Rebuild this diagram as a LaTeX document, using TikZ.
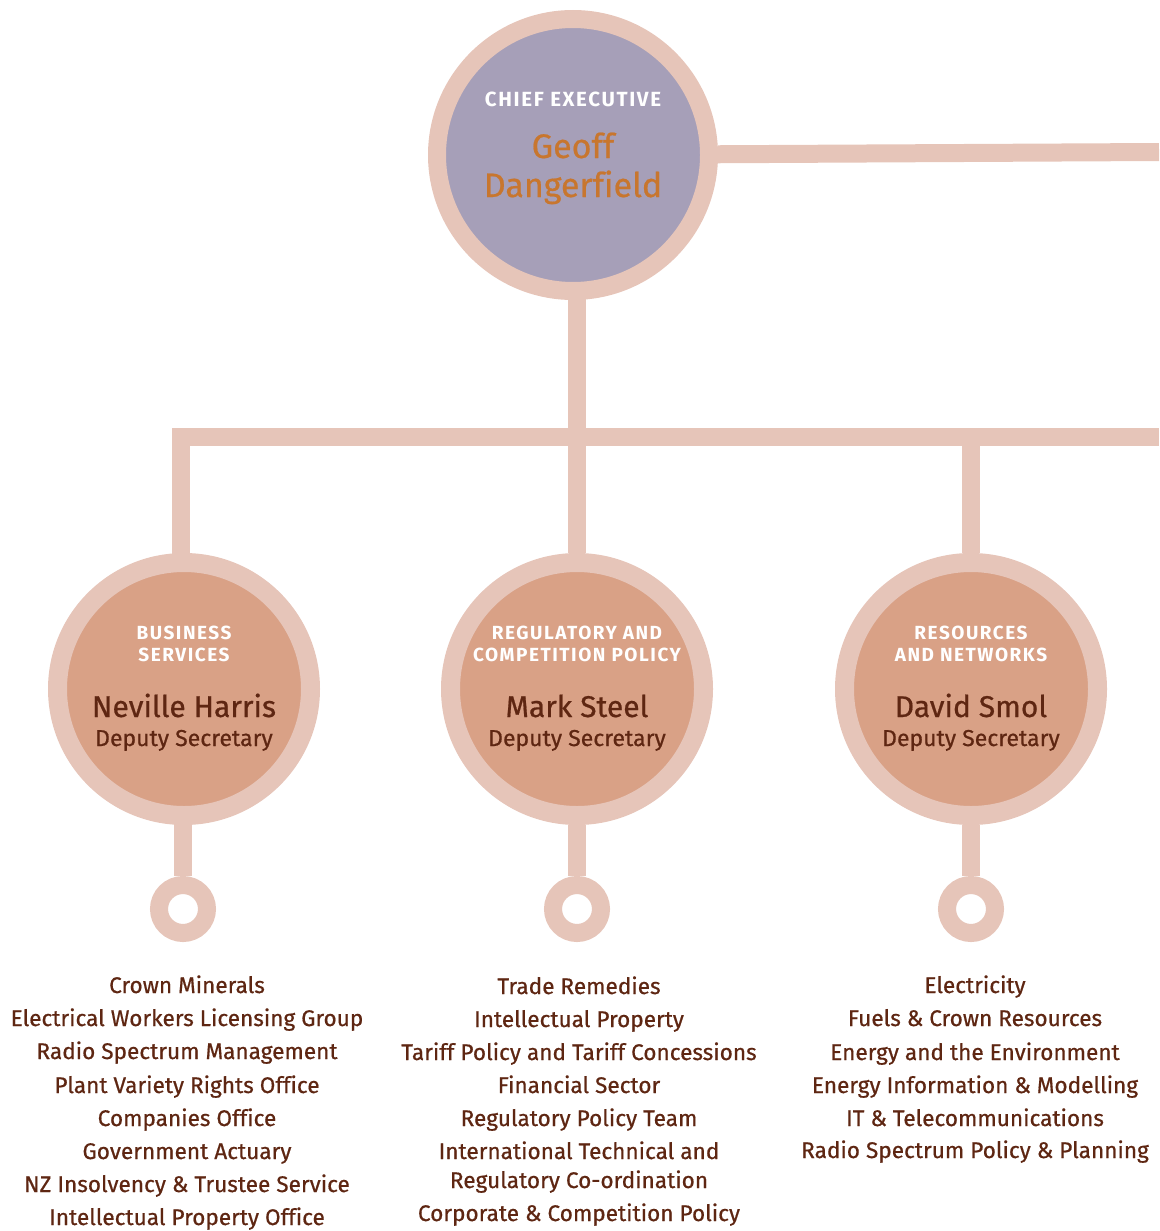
\documentclass[tikz,border=0pt]{standalone}
\usepackage{fontspec}
\setmainfont{Fira Sans}[Ligatures=NoCommon]
\newfontfamily\medfont{Fira Sans}[Ligatures=NoCommon, FakeBold=0.6]
\usetikzlibrary{backgrounds}
\definecolor{ringpink}{HTML}{E6C5B9}
\definecolor{cepurple}{HTML}{A69FB8}
\definecolor{dspeach}{HTML}{D9A186}
\definecolor{ceorange}{HTML}{C8762E}
\definecolor{darkbrown}{HTML}{5E2612}
\begin{document}
\begin{tikzpicture}[x=1pt,y=-1pt,
  conn/.style={draw=ringpink, line width=18pt},
  ceball/.style={circle, inner sep=0pt, fill=cepurple, draw=ringpink, line width=18pt, minimum size=272pt},
  dsball/.style={circle, inner sep=0pt, fill=dspeach, draw=ringpink, line width=19pt, minimum size=253pt},
  knob/.style={circle, inner sep=0pt, fill=white, draw=ringpink, line width=18pt, minimum size=48pt},
  head/.style={text=white, inner sep=0pt, anchor=base, font=\fontsize{19}{22}\selectfont\bfseries\addfontfeature{LetterSpace=8}},
  cehead/.style={head, font=\fontsize{20.5}{22}\selectfont\bfseries\addfontfeature{LetterSpace=8}},
  cename/.style={text=ceorange, inner sep=0pt, anchor=base, font=\fontsize{34}{39}\medfont},
  dsname/.style={text=darkbrown, inner sep=0pt, anchor=base, font=\fontsize{30}{34}\medfont},
  dstitle/.style={text=darkbrown, inner sep=0pt, anchor=base, font=\fontsize{23}{26}\medfont},
  item/.style={text=darkbrown, inner sep=0pt, anchor=base, font=\fontsize{22.6}{33}\medfont}
]
\useasboundingbox (0,0) rectangle (1159,1231);

% Chief executive
\node[ceball] (ce) at (573,155) {};
\node[cehead] (ce-role) at (573,106) {CHIEF EXECUTIVE};
\node[cename] (ce-first) at (573,158) {Geoff};
\node[cename] (ce-last) at (573,197) {Dangerfield};

% Deputy secretaries
\node[dsball] (bs) at (184,689) {};
\node[dsball] (rp) at (577,689) {};
\node[dsball] (rn) at (971,689) {};

\node[head] (bs-r1) at (184,639) {BUSINESS};
\node[head] (bs-r2) at (184,661) {SERVICES};
\node[dsname] (bs-name) at (184,717) {Neville Harris};
\node[dstitle] (bs-title) at (184,746) {Deputy Secretary};

\node[head] (rp-r1) at (577,639) {REGULATORY AND};
\node[head] (rp-r2) at (577,661) {COMPETITION POLICY};
\node[dsname] (rp-name) at (577,717) {Mark Steel};
\node[dstitle] (rp-title) at (577,746) {Deputy Secretary};

\node[head] (rn-r1) at (971,639) {RESOURCES};
\node[head] (rn-r2) at (971,661) {AND NETWORKS};
\node[dsname] (rn-name) at (971,717) {David Smol};
\node[dstitle] (rn-title) at (971,746) {Deputy Secretary};

% Knobs under each deputy secretary
\node[knob] (bs-knob) at (183,909) {};
\node[knob] (rp-knob) at (577,909) {};
\node[knob] (rn-knob) at (971,909) {};

% Connectors
\coordinate (ce-out) at (1159,152);
\coordinate (bus-l) at (181,437);
\coordinate (bus-m) at (577,437);
\coordinate (bus-r) at (971,437);
\coordinate (bus-end) at (1159,437);
\begin{scope}[on background layer]
  \draw[conn] (ce) -- (ce-out);
  \draw[conn] (rp) -- (bus-m |- ce);
  \draw[conn, line join=miter] (bus-end) -- (bus-l) -- (bus-l |- bs);
  \draw[conn] (bus-r) -- (rn);
  \draw[conn] (bs-knob) -- (bs-knob |- bs);
  \draw[conn] (rp-knob) -- (rp);
  \draw[conn] (rn-knob) -- (rn);
\end{scope}

% Units
\foreach \y/\t [count=\i] in {993/Crown Minerals, 1026/Electrical Workers Licensing Group,
  1059/Radio Spectrum Management, 1093/Plant Variety Rights Office, 1126/Companies Office,
  1159/Government Actuary, 1192/NZ Insolvency \& Trustee Service, 1225/Intellectual Property Office}
  \node[item] (bs-u\i) at (187,\y) {\t};

\foreach \y/\t [count=\i] in {994/Trade Remedies, 1027/Intellectual Property,
  1060/Tariff Policy and Tariff Concessions, 1093/Financial Sector, 1126/Regulatory Policy Team,
  1159/International Technical and, 1188/Regulatory Co-ordination, 1221/Corporate \& Competition Policy}
  \node[item] (rp-u\i) at (579,\y) {\t};

\foreach \y/\t [count=\i] in {993/Electricity, 1026/Fuels \& Crown Resources,
  1060/Energy and the Environment, 1093/Energy Information \& Modelling,
  1126/IT \& Telecommunications, 1158/Radio Spectrum Policy \& Planning}
  \node[item] (rn-u\i) at (975,\y) {\t};
\end{tikzpicture}
\end{document}
